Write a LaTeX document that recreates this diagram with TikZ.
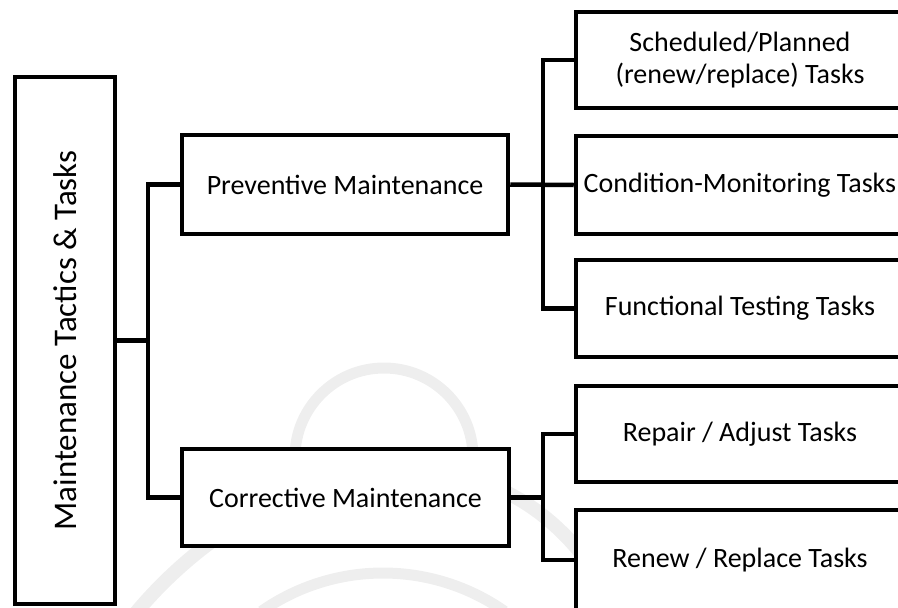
\documentclass[tikz,border=0pt]{standalone}
\usepackage{fontspec}
\setmainfont{Carlito}
\begin{document}
\begin{tikzpicture}[x=1pt,y=-1pt,
  box/.style={draw,line width=4.5pt,fill=white,inner sep=0pt,align=center,
    font=\fontsize{28}{32}\selectfont},
  link/.style={line width=4.5pt},
  wm/.style={line width=11pt,gray!13}]
\useasboundingbox (0,0) rectangle (898,608);

% Faint watermark behind the chart
\draw[wm] (384,457) ++(180:89) arc (180:360:89);
\draw[wm] (383,785) ++(235:212) arc (235:305:212);
\draw[wm,line width=14pt] (130,620) .. controls (250,470) and (470,400) .. (590,565);

% Root and the two tactics
\node[box,minimum width=100pt,minimum height=527pt,font=\fontsize{33}{38}\selectfont] (root) at (65,340.5) {\rotatebox{90}{Maintenance Tactics \& Tasks}};
\node[box,minimum width=326pt,minimum height=99pt] (prev) at (345,184.5) {Preventive Maintenance};
\node[box,minimum width=327pt,minimum height=97pt] (corr) at (345.5,497.5) {Corrective Maintenance};

% Task boxes (cut off at the right edge)
\node[box,minimum width=328pt,minimum height=96pt] (sched) at (740,60) {Scheduled/Planned\\(renew/replace) Tasks};
\node[box,minimum width=328pt,minimum height=98pt] (cond) at (740,185) {Condition-Monitoring Tasks};
\node[box,minimum width=328pt,minimum height=97pt] (func) at (740,308.5) {Functional Testing Tasks};
\node[box,minimum width=328pt,minimum height=96pt] (repair) at (740,434) {Repair / Adjust Tasks};
\node[box,minimum width=328pt,minimum height=100pt] (renew) at (740,560) {Renew / Replace Tasks};

% Bracket connectors
\coordinate (rbus) at (148,340.5);
\coordinate (pbus) at (543,185);
\coordinate (cbus) at (543,497.5);
\draw[link] (root.east) -- (rbus);
\draw[link] (prev.west) -| (rbus) |- (corr.west);
\draw[link] (prev.east) -- (cond.west);
\draw[link] (sched.west) -| (pbus) |- (func.west);
\draw[link] (corr.east) -- (cbus);
\draw[link] (repair.west) -| (cbus) |- (renew.west);
\end{tikzpicture}
\end{document}
